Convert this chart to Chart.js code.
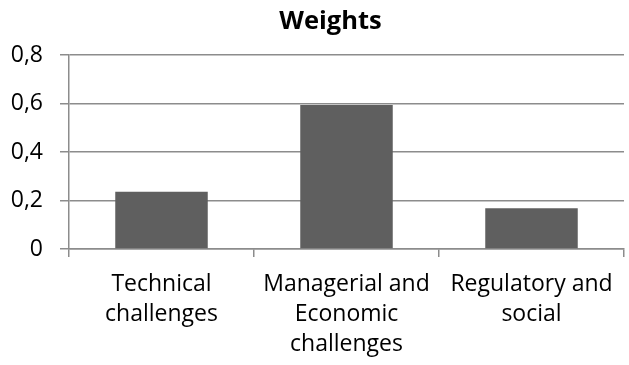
<!DOCTYPE html>
<html>
<head>
<meta charset="utf-8">
<script src="https://cdn.jsdelivr.net/npm/chart.js@4"></script>
<style>
  html, body { margin: 0; padding: 0; background: #ffffff; }
  #wrap { width: 629px; height: 365px; position: relative; }
</style>
</head>
<body>
<div id="wrap"><canvas id="chart" width="629" height="365"></canvas></div>
<script>
// Category labels (split over lines as shown under the axis)
const categories = [
  ['Technical', 'challenges'],
  ['Managerial and', 'Economic', 'challenges'],
  ['Regulatory and', 'social']
];
// Weight of each challenge group
const weights = [0.236, 0.594, 0.168];
// Value axis ticks
const yTicks = [0, 0.2, 0.4, 0.6, 0.8];
const chartTitle = 'Weights';

const axisGray = '#8c8c8c';
const fontFamily = '"Open Sans", Lato, sans-serif';

// Heading drawn slightly left of the plot centre, above the top gridline
const headingPlugin = {
  id: 'heading',
  afterDraw(chart) {
    const { ctx, chartArea } = chart;
    ctx.save();
    ctx.font = 'bold 25.5px ' + fontFamily;
    ctx.fillStyle = '#000000';
    ctx.textAlign = 'center';
    ctx.textBaseline = 'alphabetic';
    ctx.fillText(chartTitle, (chartArea.left + chartArea.right) / 2 - 16, 29);
    ctx.restore();
  }
};

new Chart(document.getElementById('chart'), {
  type: 'bar',
  data: {
    labels: categories,
    datasets: [{
      label: chartTitle,
      data: weights,
      backgroundColor: '#5f5f5f',
      borderWidth: 0,
      categoryPercentage: 1,
      barPercentage: 0.5
    }]
  },
  plugins: [headingPlugin],
  options: {
    responsive: false,
    animation: false,
    layout: { padding: { left: 0, right: 5, top: 55, bottom: 0 } },
    plugins: {
      legend: { display: false },
      tooltip: { enabled: false },
      title: { display: false }
    },
    scales: {
      x: {
        grid: {
          display: true,
          drawOnChartArea: false,
          drawTicks: true,
          tickLength: 8,
          offset: true,
          color: axisGray,
          lineWidth: 1.5
        },
        border: { display: true, color: axisGray, width: 1.5 },
        ticks: {
          color: '#000000',
          padding: 12,
          maxRotation: 0,
          autoSkip: false,
          font: { family: fontFamily, size: 23, lineHeight: '30px' }
        },
        afterFit(scale) { scale.height = 116; }
      },
      y: {
        min: 0,
        max: 0.8,
        afterBuildTicks(scale) { scale.ticks = yTicks.map(v => ({ value: v })); },
        grid: {
          color: axisGray,
          lineWidth: 1.5,
          drawTicks: true,
          tickLength: 9
        },
        border: { display: true, color: axisGray, width: 1.5 },
        ticks: {
          color: '#000000',
          padding: 17,
          font: { family: fontFamily, size: 23 },
          callback(value) {
            return value === 0 ? '0' : value.toFixed(1).replace('.', ',');
          }
        },
        afterFit(scale) { scale.width = 69; }
      }
    }
  }
});
</script>
</body>
</html>
